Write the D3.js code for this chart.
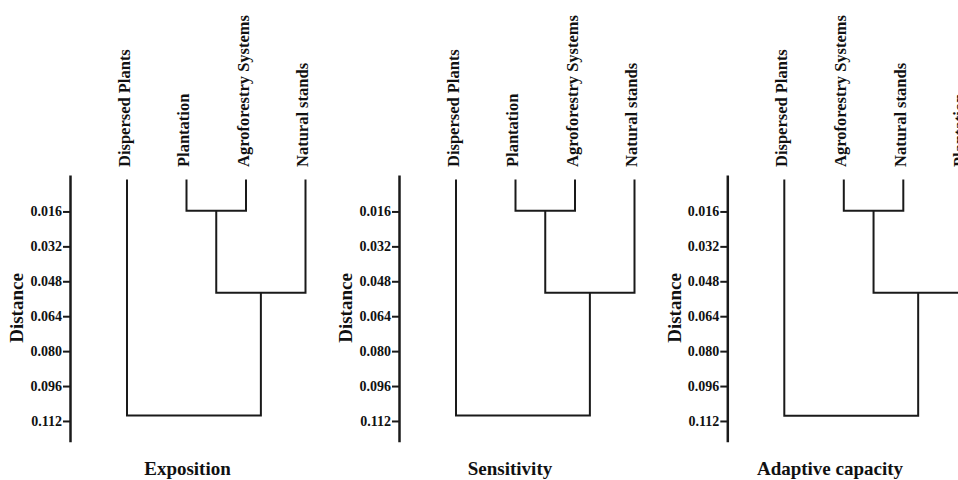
<!DOCTYPE html>
<html>
<head>
<meta charset="utf-8">
<title>Dendrograms: Exposition, Sensitivity, Adaptive capacity</title>
<style>
  body {margin: 0; background: #fff;}
  svg {display: block; background: #fff; font-family: "Liberation Serif", "Times New Roman", serif; font-weight: bold;}
  .link {fill: none; stroke: #1a1a1a; stroke-width: 2; stroke-linejoin: miter;}
  .axis .domain {stroke: #1a1a1a; stroke-width: 2.5;}
  .axis .tick line {stroke: #1a1a1a; stroke-width: 2;}
  .axis text {font-family: "Liberation Serif", "Times New Roman", serif; font-weight: bold; font-size: 14px; fill: #111;}
  .leaf {font-size: 16.5px; fill: #111;}
  .title, .ylabel {font-size: 19px; fill: #111;}
</style>
</head>
<body>
<svg></svg>
<script src="https://d3js.org/d3.v7.min.js"></script>
<script>
const panelTitles = ["Exposition", "Sensitivity", "Adaptive capacity"];
const leafOrders = [
  ["Dispersed Plants", "Plantation", "Agroforestry Systems", "Natural stands"],
  ["Dispersed Plants", "Plantation", "Agroforestry Systems", "Natural stands"],
  ["Dispersed Plants", "Agroforestry Systems", "Natural stands", "Plantation"]
];
// join distances: leaf 2 + leaf 3, then + leaf 4, then + leaf 1
const joinHeights = [
  [0.0157, 0.0533, 0.1095],
  [0.0157, 0.0533, 0.1095],
  [0.0157, 0.0533, 0.1096]
];
const tickValues = [0.016, 0.032, 0.048, 0.064, 0.080, 0.096, 0.112];
const yLabel = "Distance";

// layout
const width = 958, height = 480;
const axisX = [70, 399, 727.3];
const titleX = [187.5, 510, 830];
const leafStart = 57, leafEnd = 235.5;
const leafGap = 3;
const labelBottom = 167;

const svg = d3.select("svg")
  .attr("width", width)
  .attr("height", height);

const y = d3.scaleLinear()
  .domain([-0.0007, 0.1215])
  .range([175, 441.7]);

function buildTree(names, h) {
  return {h: h[2], children: [
    {name: names[0]},
    {h: h[1], children: [
      {h: h[0], children: [{name: names[1]}, {name: names[2]}]},
      {name: names[3]}
    ]}
  ]};
}

panelTitles.forEach((title, i) => {
  const ax = axisX[i];
  const names = leafOrders[i];
  const g = svg.append("g").attr("class", "panel");

  const x = d3.scalePoint()
    .domain(names)
    .range([ax + leafStart, ax + leafEnd]);

  const root = d3.hierarchy(buildTree(names, joinHeights[i]));
  root.eachAfter(n => {
    if (!n.children) {
      n.x = x(n.data.name);
      n.y = y(0) + leafGap;
    } else {
      n.x = d3.mean(n.children, c => c.x);
      n.y = y(n.data.h);
    }
  });

  g.selectAll(".link")
    .data(root.descendants().filter(n => n.children))
    .enter()
    .append("path")
    .attr("class", "link")
    .attr("d", n => {
      const a = n.children[0], b = n.children[1];
      return `M${a.x},${a.y}V${n.y}H${b.x}V${b.y}`;
    });

  g.selectAll(".leaf")
    .data(root.leaves())
    .enter()
    .append("text")
    .attr("class", "leaf")
    .attr("transform", d => `translate(${d.x},${labelBottom}) rotate(-90)`)
    .attr("dy", "0.16em")
    .attr("text-anchor", "start")
    .text(d => d.data.name);

  const axis = g.append("g")
    .attr("class", "axis")
    .attr("transform", `translate(${ax},0)`)
    .call(d3.axisLeft(y)
      .tickValues(tickValues)
      .tickFormat(d3.format(".3f"))
      .tickSize(7)
      .tickSizeOuter(0)
      .tickPadding(1));
  axis.attr("font-family", null).attr("font-size", null);

  g.append("text")
    .attr("class", "ylabel")
    .attr("transform", `translate(${ax - 46.7},308) rotate(-90)`)
    .attr("text-anchor", "middle")
    .text(yLabel);

  g.append("text")
    .attr("class", "title")
    .attr("x", titleX[i])
    .attr("y", 475)
    .attr("text-anchor", "middle")
    .text(title);
});
</script>
</body>
</html>
